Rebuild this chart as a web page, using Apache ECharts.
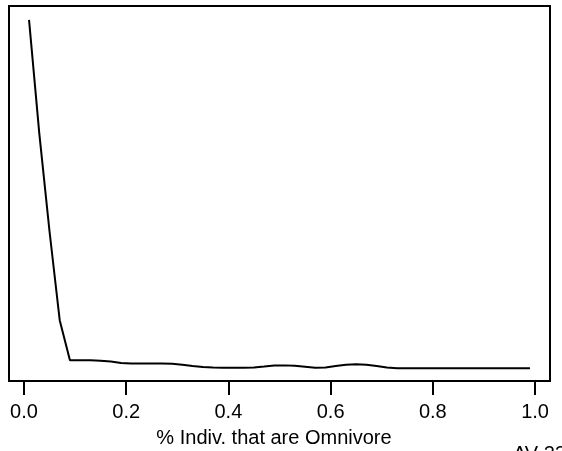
<!DOCTYPE html>
<html>
<head>
<meta charset="utf-8">
<script src="https://cdn.jsdelivr.net/npm/echarts@6/dist/echarts.min.js"></script>
<style>html,body{margin:0;padding:0;background:#fff;}#c{width:562px;height:451px;}</style>
</head>
<body>
<div id="c"></div>
<script>
var xValues = [0.01,0.03,0.05,0.07,0.09,0.11,0.13,0.15,0.17,0.19,0.21,0.23,0.25,0.27,0.29,0.31,0.33,0.35,0.37,0.39,0.41,0.43,0.45,0.47,0.49,0.51,0.53,0.55,0.57,0.59,0.61,0.63,0.65,0.67,0.69,0.71,0.73,0.75,0.77,0.79,0.81,0.83,0.85,0.87,0.89,0.91,0.93,0.95,0.97,0.99];
var yValues = [100,67.4,39.2,13.5,2.0,2.0,2.0,1.8,1.6,1.2,1.05,1.05,1.05,1.05,1.0,0.7,0.3,0.0,-0.1,-0.15,-0.2,-0.2,-0.1,0.15,0.45,0.5,0.4,0.1,-0.2,-0.1,0.3,0.65,0.8,0.65,0.3,-0.1,-0.3,-0.3,-0.3,-0.3,-0.3,-0.3,-0.3,-0.35,-0.35,-0.35,-0.35,-0.35,-0.35,-0.35];
var xTicks = [0,0.2,0.4,0.6,0.8,1.0];
var xTitle = '% Indiv. that are Omnivore';
var cornerText = 'AV 23';

var chart = echarts.init(document.getElementById('c'), null, {renderer:'canvas'});
var pts = xValues.map(function(x,i){return [x,yValues[i]];});
chart.setOption({
  animation:false,
  backgroundColor:'#fff',
  textStyle:{fontFamily:'Liberation Sans, Arial, sans-serif'},
  grid:{left:9,top:6,right:12,bottom:70,show:true,borderColor:'#000',borderWidth:2,backgroundColor:'transparent'},
  xAxis:{type:'value',min:-0.0292,max:1.0292,position:'bottom',
    axisLine:{show:false,onZero:false},
    splitLine:{show:false},
    axisTick:{show:true,length:14,inside:false,lineStyle:{color:'#000',width:2},customValues:xTicks},
    axisLabel:{show:true,fontSize:20,color:'#000',margin:21,fontFamily:'Liberation Sans, Arial, sans-serif',
      customValues:xTicks,formatter:function(v){return v.toFixed(1);}}
  },
  yAxis:{type:'value',min:-4,max:104,show:false},
  series:[{type:'line',data:pts,symbol:'none',smooth:false,lineStyle:{color:'#000',width:2}}],
  graphic:[
    {type:'text',x:274,y:428,style:{text:xTitle,fontSize:20,fill:'#000',textAlign:'center',textVerticalAlign:'top',fontFamily:'Liberation Sans, Arial, sans-serif'}},
    {type:'text',x:513,y:444,style:{text:cornerText,fontSize:20,fill:'#000',textAlign:'left',textVerticalAlign:'top',fontFamily:'Liberation Sans, Arial, sans-serif'}}
  ]
});
</script>
</body>
</html>
